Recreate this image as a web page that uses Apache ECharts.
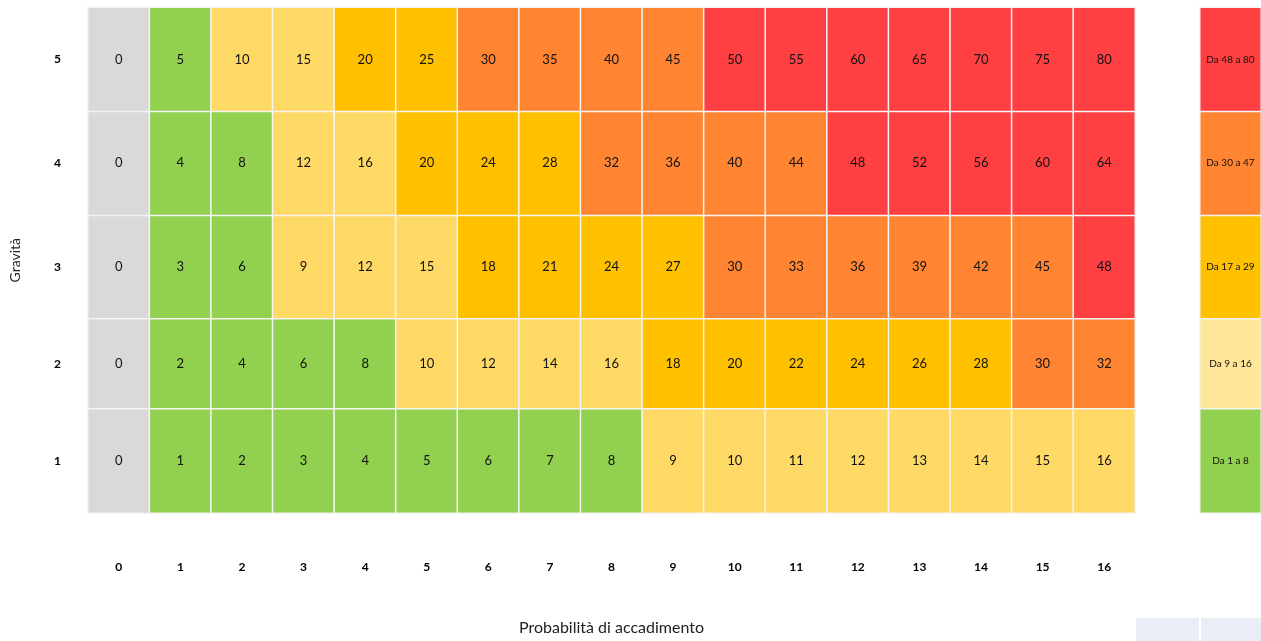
<!DOCTYPE html>
<html>
<head>
<meta charset="utf-8">
<script src="https://cdn.jsdelivr.net/npm/echarts@6/dist/echarts.min.js"></script>
<style>
html,body{margin:0;padding:0;background:#fff;}
#c{width:1261px;height:641px;}
</style>
</head>
<body>
<div id="c"></div>
<script>
// ---- data ----
var probabilita = ['0','1','2','3','4','5','6','7','8','9','10','11','12','13','14','15','16'];
var gravita = ['1','2','3','4','5'];
var row1 = [0,1,2,3,4,5,6,7,8,9,10,11,12,13,14,15,16];
var row2 = [0,2,4,6,8,10,12,14,16,18,20,22,24,26,28,30,32];
var row3 = [0,3,6,9,12,15,18,21,24,27,30,33,36,39,42,45,48];
var row4 = [0,4,8,12,16,20,24,28,32,36,40,44,48,52,56,60,64];
var row5 = [0,5,10,15,20,25,30,35,40,45,50,55,60,65,70,75,80];
var rows = [row1,row2,row3,row4,row5];
var legendLabels = ['Da 1 a 8','Da 9 a 16','Da 17 a 29','Da 30 a 47','Da 48 a 80'];
var rangeMin = [1,9,17,30,48];
var rangeMax = [8,16,29,47,80];
var rangeColors = ['#92d050','#ffd966','#ffc000','#ff8533','#ff4043'];
var legendColors = ['#92d050','#ffe699','#ffc000','#ff8533','#ff4043'];
var zeroColor = '#d9d9d9';

// ---- layout: row bands (the source table has a shorter "2" row) ----
var bands = [
  {rowIdx:[2,3,4], top:7.5, bottom:322},
  {rowIdx:[1],     top:319, bottom:232},
  {rowIdx:[0],     top:409, bottom:128}
];

var FONT = 'Lato, "Liberation Sans", sans-serif';
var pieces = [{value:0, color:zeroColor}];
for (var i=0;i<rangeMin.length;i++) pieces.push({min:rangeMin[i], max:rangeMax[i], color:rangeColors[i]});

var grids = [], xAxes = [], yAxes = [], series = [], heatSeriesIdx = [];
bands.forEach(function(b, bi){
  var isBottom = bi === bands.length - 1;
  var cats = b.rowIdx.map(function(r){ return gravita[r]; });
  // main grid
  grids.push({left:88, right:126, top:b.top, bottom:b.bottom});
  var gMain = grids.length - 1;
  xAxes.push({type:'category', gridIndex:gMain, data:probabilita, show:isBottom,
     axisLine:{show:false}, axisTick:{show:false}, splitLine:{show:false},
     axisLabel:{margin:48, fontWeight:'bold', fontSize:12, color:'#000', fontFamily:FONT},
     name:isBottom ? 'Probabilità di accadimento' : '', nameLocation:'middle', nameGap:107,
     nameTextStyle:{fontSize:16, color:'#222', fontFamily:FONT}});
  yAxes.push({type:'category', gridIndex:gMain, data:cats,
     axisLine:{show:false}, axisTick:{show:false}, splitLine:{show:false},
     axisLabel:{margin:27, fontWeight:'bold', fontSize:12, color:'#000', fontFamily:FONT}});
  var d = [];
  b.rowIdx.forEach(function(r, yi){
    rows[r].forEach(function(v, xi){ d.push([xi, yi, v]); });
  });
  heatSeriesIdx.push(series.length);
  series.push({type:'heatmap', xAxisIndex:gMain, yAxisIndex:gMain, data:d,
     itemStyle:{borderColor:'#f4f4f4', borderWidth:1.5},
     label:{show:true, fontSize:13, color:'#111', fontFamily:FONT},
     emphasis:{disabled:true}});
  // legend grid
  grids.push({left:1200, width:66, top:b.top, bottom:b.bottom});
  var gLeg = grids.length - 1;
  xAxes.push({type:'category', gridIndex:gLeg, data:['0'], show:false});
  yAxes.push({type:'category', gridIndex:gLeg, data:cats, show:false});
  var ld = b.rowIdx.map(function(r, yi){
    return {name:legendLabels[r], value:[0, yi, rangeMax[r]], itemStyle:{color:legendColors[r]}};
  });
  series.push({type:'heatmap', xAxisIndex:gLeg, yAxisIndex:gLeg, data:ld,
     itemStyle:{borderColor:'#f4f4f4', borderWidth:1.5},
     label:{show:true, fontSize:10, color:'#111', fontFamily:FONT,
       formatter:function(p){return p.name;}},
     emphasis:{disabled:true}});
});

var chart = echarts.init(document.getElementById('c'));
chart.setOption({
  animation:false,
  backgroundColor:'#fff',
  textStyle:{fontFamily:FONT},
  grid:grids, xAxis:xAxes, yAxis:yAxes,
  visualMap:{type:'piecewise', show:false, seriesIndex:heatSeriesIdx, dimension:2, pieces:pieces},
  series:series,
  graphic:[
    {type:'text', left:8, top:238, rotation:Math.PI/2, origin:[0,0],
     style:{text:'Gravità', fontSize:14, fill:'#222', fontFamily:FONT}},
    {type:'rect', left:1136, top:618, shape:{width:63, height:23}, style:{fill:'#e9edf5'}},
    {type:'rect', left:1201, top:618, shape:{width:60, height:23}, style:{fill:'#e9edf5'}}
  ]
});
</script>
</body>
</html>
